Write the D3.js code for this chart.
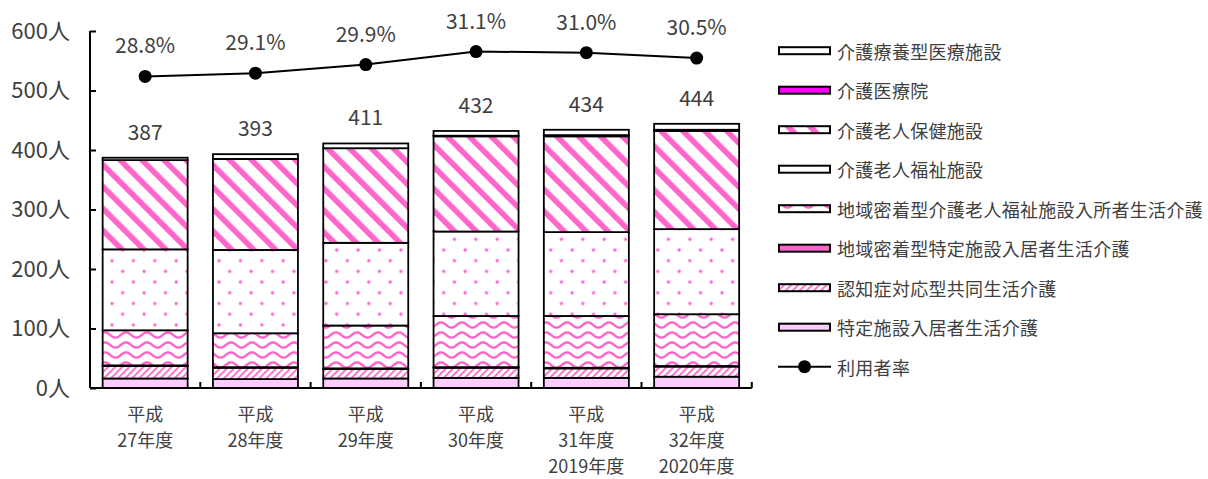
<!DOCTYPE html>
<html>
<head>
<meta charset="utf-8">
<script src="https://cdn.jsdelivr.net/npm/d3@7"></script>
<style>
  html, body { margin: 0; padding: 0; background: #ffffff; }
  svg { display: block; font-family: "Noto Sans CJK JP", "Noto Sans", sans-serif; }
</style>
</head>
<body>
<svg id="chart" width="1208" height="479"></svg>
<script>
// Fiscal years on the category axis (one entry per line of the label)
const categories = [
  ["平成", "27年度"],
  ["平成", "28年度"],
  ["平成", "29年度"],
  ["平成", "30年度"],
  ["平成", "31年度", "2019年度"],
  ["平成", "32年度", "2020年度"]
];

// Users by type of service (persons), stacked bottom to top
const tokuteiShisetsu   = [16, 15, 16, 17, 17, 19];       // 特定施設入居者生活介護
const ninchishoKyodo    = [21, 19, 16, 17, 16, 17];       // 認知症対応型共同生活介護
const chiikiTokutei     = [1, 1, 1, 1, 1, 1];             // 地域密着型特定施設入居者生活介護
const chiikiRojinFukushi = [59, 57, 72, 86, 87, 87];      // 地域密着型介護老人福祉施設入所者生活介護
const rojinFukushi      = [136, 140, 139, 142, 141, 143]; // 介護老人福祉施設
const rojinHoken        = [150, 153, 159, 160, 161, 165]; // 介護老人保健施設
const iryoin            = [0, 0, 0, 1, 2, 2];             // 介護医療院
const ryoyogata         = [4, 8, 8, 8, 9, 10];            // 介護療養型医療施設

// Usage rate (%)
const usageRate = [28.8, 29.1, 29.9, 31.1, 31.0, 30.5];

// Left axis ticks
const yTicks = [0, 100, 200, 300, 400, 500, 600];

const seriesNames = [
  "特定施設入居者生活介護",
  "認知症対応型共同生活介護",
  "地域密着型特定施設入居者生活介護",
  "地域密着型介護老人福祉施設入所者生活介護",
  "介護老人福祉施設",
  "介護老人保健施設",
  "介護医療院",
  "介護療養型医療施設"
];
const seriesValues = [
  tokuteiShisetsu, ninchishoKyodo, chiikiTokutei, chiikiRojinFukushi,
  rojinFukushi, rojinHoken, iryoin, ryoyogata
];
const rateName = "利用者率";

const PINK = "#ff66cc";
const TEXT = "#404040";

const svg = d3.select("#chart");
const defs = svg.append("defs");

// ---- fill patterns ----
// thin "/" hatching
const pHatch = defs.append("pattern").attr("id", "hatchThin")
  .attr("patternUnits", "userSpaceOnUse").attr("width", 5).attr("height", 5)
  .attr("patternTransform", "rotate(45)");
pHatch.append("rect").attr("width", 5).attr("height", 5).attr("fill", "#fff");
pHatch.append("rect").attr("x", 0).attr("width", 1.8).attr("height", 5).attr("fill", PINK);

// wide "\" stripes
const pStripe = defs.append("pattern").attr("id", "stripeWide")
  .attr("patternUnits", "userSpaceOnUse").attr("width", 15.5).attr("height", 15.5)
  .attr("patternTransform", "rotate(-45)");
pStripe.append("rect").attr("width", 15.5).attr("height", 15.5).attr("fill", "#fff");
pStripe.append("rect").attr("x", 0).attr("width", 5.6).attr("height", 15.5).attr("fill", PINK);

// staggered dots
const pDots = defs.append("pattern").attr("id", "dots")
  .attr("patternUnits", "userSpaceOnUse").attr("width", 21.4).attr("height", 21.4);
pDots.append("rect").attr("width", 21.4).attr("height", 21.4).attr("fill", "#fff");
pDots.append("circle").attr("cx", 5).attr("cy", 4).attr("r", 1.7).attr("fill", PINK);
pDots.append("circle").attr("cx", 15.7).attr("cy", 14.7).attr("r", 1.7).attr("fill", PINK);

// waves
const waveW = 21, waveH = 10;
const pWave = defs.append("pattern").attr("id", "wave")
  .attr("patternUnits", "userSpaceOnUse").attr("width", waveW).attr("height", waveH);
pWave.append("rect").attr("width", waveW).attr("height", waveH).attr("fill", "#fff");
const wavePts = d3.range(-1, waveW + 1.5, 0.5).map(x => [x, 5 - 2.6 * Math.cos(2 * Math.PI * x / waveW)]);
pWave.append("path").attr("d", d3.line()(wavePts))
  .attr("fill", "none").attr("stroke", PINK).attr("stroke-width", 2.4);

const fills = [
  "#ffccff",
  "url(#hatchThin)",
  PINK,
  "url(#wave)",
  "url(#dots)",
  "url(#stripeWide)",
  "#ff00ff",
  "#ffffff"
];

// ---- scales ----
const x = d3.scaleBand().domain(d3.range(categories.length)).range([90, 751.8]).padding(0);
const barW = 85;
const y = d3.scaleLinear().domain([0, 600]).range([388, 31]);
const yRate = d3.scaleLinear().domain([0, 33]).range([388, 31]);

// ---- stacked bars ----
const table = categories.map((c, i) => {
  const row = { i };
  seriesNames.forEach((n, k) => { row[n] = seriesValues[k][i]; });
  return row;
});
const stacked = d3.stack().keys(seriesNames)(table);

const gBars = svg.append("g");
stacked.forEach((layer, k) => {
  gBars.append("g").selectAll("rect").data(layer).join("rect")
    .attr("x", d => x(d.data.i) + (x.bandwidth() - barW) / 2)
    .attr("width", barW)
    .attr("y", d => y(d[1]))
    .attr("height", d => y(d[0]) - y(d[1]))
    .attr("fill", fills[k])
    .attr("stroke", "#000")
    .attr("stroke-width", 1.8);
});

// totals above bars
const totals = table.map((r, i) => d3.sum(seriesValues, s => s[i]));
svg.append("g").selectAll("text").data(totals).join("text")
  .attr("x", (d, i) => x(i) + x.bandwidth() / 2)
  .attr("y", d => y(d) - 27)
  .attr("text-anchor", "middle").attr("dominant-baseline", "central")
  .attr("font-size", 21).attr("fill", TEXT)
  .text(d => d);

// ---- axes ----
const yAxis = d3.axisLeft(y).tickValues(yTicks).tickSize(-6).tickPadding(20)
  .tickFormat(d => d + "人");
const gy = svg.append("g").attr("transform", "translate(90,0)").call(yAxis);
gy.select(".domain").attr("stroke", "#000").attr("stroke-width", 2)
  .attr("d", "M0,388V31");
gy.selectAll(".tick line").attr("stroke", "#000").attr("stroke-width", 2);
gy.selectAll(".tick text").attr("font-size", 22).attr("fill", TEXT)
  .attr("font-family", "Noto Sans CJK JP");

// category axis with boundary ticks
const gx = svg.append("g");
gx.append("line").attr("x1", 90).attr("x2", 751.8).attr("y1", y(0)).attr("y2", y(0))
  .attr("stroke", "#000").attr("stroke-width", 2);
gx.selectAll("line.tk").data(d3.range(1, categories.length + 1)).join("line")
  .attr("class", "tk")
  .attr("x1", i => x(0) + i * x.step()).attr("x2", i => x(0) + i * x.step())
  .attr("y1", y(0)).attr("y2", y(0) - 6)
  .attr("stroke", "#000").attr("stroke-width", 2);
const labels = gx.selectAll("g.cat").data(categories).join("g").attr("class", "cat");
labels.each(function (lines, i) {
  d3.select(this).selectAll("text").data(lines).join("text")
    .attr("text-anchor", "middle").attr("font-size", 18).attr("fill", TEXT)
    .attr("x", x(i) + x.bandwidth() / 2)
    .attr("y", (d, j) => 413 + j * 26)
    .attr("dominant-baseline", "central")
    .text(d => d);
});

// ---- usage rate line ----
const line = d3.line().x((d, i) => x(i) + x.bandwidth() / 2).y(d => yRate(d));
svg.append("path").datum(usageRate).attr("d", line)
  .attr("fill", "none").attr("stroke", "#000").attr("stroke-width", 2);
svg.append("g").selectAll("circle").data(usageRate).join("circle")
  .attr("cx", (d, i) => x(i) + x.bandwidth() / 2).attr("cy", d => yRate(d))
  .attr("r", 6.5).attr("fill", "#000");
svg.append("g").selectAll("text").data(usageRate).join("text")
  .attr("x", (d, i) => x(i) + x.bandwidth() / 2)
  .attr("y", d => yRate(d) - 32)
  .attr("text-anchor", "middle").attr("dominant-baseline", "central")
  .attr("font-size", 21).attr("fill", TEXT)
  .text(d => d.toFixed(1) + "%");

// ---- legend (top entry is the top layer) ----
const legendItems = seriesNames.map((n, k) => ({ name: n, fill: fills[k] })).reverse();
const lg = svg.append("g");
const rowY = i => 50.7 + i * 39.5;
legendItems.forEach((it, i) => {
  lg.append("rect").attr("x", 779).attr("y", rowY(i) - 3.5).attr("width", 51).attr("height", 7)
    .attr("fill", it.fill).attr("stroke", "#000").attr("stroke-width", 2);
  lg.append("text").attr("x", 837).attr("y", rowY(i)).attr("dominant-baseline", "central")
    .attr("font-size", 18).attr("letter-spacing", 0.3).attr("fill", TEXT).text(it.name);
});
const ri = legendItems.length;
lg.append("line").attr("x1", 778).attr("x2", 831).attr("y1", rowY(ri)).attr("y2", rowY(ri))
  .attr("stroke", "#000").attr("stroke-width", 2);
lg.append("circle").attr("cx", 804.5).attr("cy", rowY(ri)).attr("r", 6.5).attr("fill", "#000");
lg.append("text").attr("x", 837).attr("y", rowY(ri)).attr("dominant-baseline", "central")
  .attr("font-size", 18).attr("letter-spacing", 0.3).attr("fill", TEXT).text(rateName);
</script>
</body>
</html>
